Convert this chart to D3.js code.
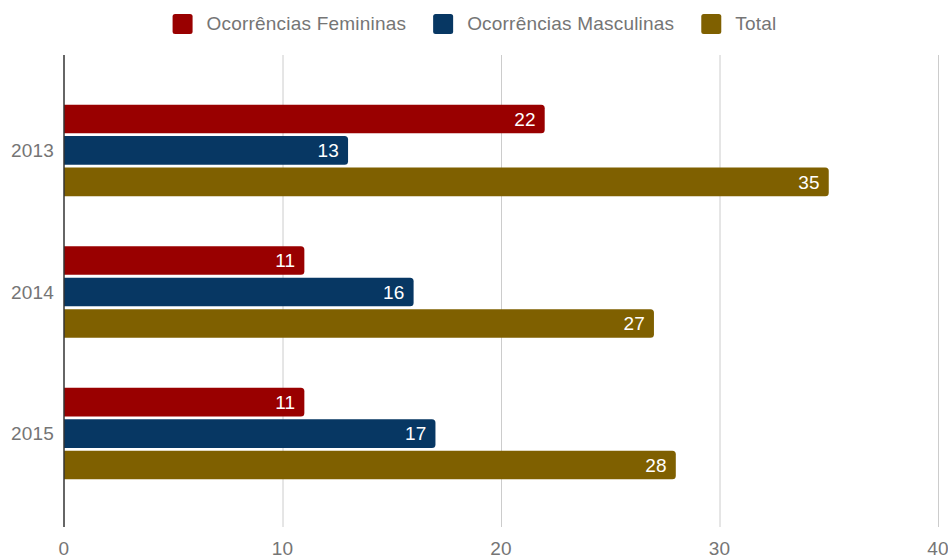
<!DOCTYPE html>
<html><head><meta charset="utf-8">
<script src="https://cdn.jsdelivr.net/npm/d3@7"></script>
<style>body{margin:0;background:#fff}svg{display:block;font-family:"Liberation Sans",Arial,sans-serif}text{letter-spacing:0.2px}</style>
</head><body><svg id="c" width="948" height="558"></svg>
<script>
const years = ["2013", "2014", "2015"];
const seriesNames = ["Ocorrências Femininas", "Ocorrências Masculinas", "Total"];
const feminine = [22, 11, 11];
const masculine = [13, 16, 17];
const total = [35, 27, 28];
const xTicks = [0, 10, 20, 30, 40];
const colors = ["#990000", "#073763", "#7f6000"];

const seriesValues = [feminine, masculine, total];
const svg = d3.select("#c");
const plotTop = 55, plotBottom = 527;
const FS = 19;
const x = d3.scaleLinear().domain([0, 40]).range([64, 938]);
const y0 = d3.scaleBand().domain(years).range([79.6, 504.4]).padding(0);
const groupH = 91.5;
const y1 = d3.scaleBand().domain(seriesNames).range([0, groupH]).paddingInner(0.09);

// gridlines
svg.append("g").selectAll("line").data(xTicks.filter(d => d !== 0)).join("line")
  .attr("x1", d => x(d) + 0.5).attr("x2", d => x(d) + 0.5)
  .attr("y1", plotTop).attr("y2", plotBottom)
  .attr("stroke", "#cccccc").attr("stroke-width", 1);

// x tick labels
svg.append("g").selectAll("text").data(xTicks).join("text")
  .attr("x", d => x(d)).attr("y", 555)
  .attr("text-anchor", "middle").attr("font-size", FS).attr("fill", "#757575")
  .text(d => d);

// y labels
svg.append("g").selectAll("text").data(years).join("text")
  .attr("x", 54).attr("y", d => y0(d) + y0.bandwidth() / 2)
  .attr("dy", "0.35em")
  .attr("text-anchor", "end").attr("font-size", FS).attr("fill", "#757575")
  .text(d => d);

function barPath(x0, x1, yT, h, r) {
  r = Math.min(r, (x1 - x0));
  return `M${x0},${yT}H${x1 - r}Q${x1},${yT} ${x1},${yT + r}V${yT + h - r}Q${x1},${yT + h} ${x1 - r},${yT + h}H${x0}Z`;
}

const groups = svg.append("g").selectAll("g").data(years).join("g")
  .attr("transform", d => `translate(0,${y0(d) + (y0.bandwidth() - groupH) / 2})`);

groups.each(function (yr, i) {
  const g = d3.select(this);
  seriesNames.forEach((s, k) => {
    const v = seriesValues[k][i];
    g.append("path")
      .attr("d", barPath(x(0), x(v), y1(s), y1.bandwidth(), 3.5))
      .attr("fill", colors[k]);
    g.append("text")
      .attr("x", x(v) - 9).attr("y", y1(s) + y1.bandwidth() / 2)
      .attr("dy", "0.36em").attr("text-anchor", "end")
      .attr("font-size", FS).attr("fill", "#ffffff")
      .text(v);
  });
});

// axis line
svg.append("line").attr("x1", 64).attr("x2", 64).attr("y1", plotTop).attr("y2", plotBottom)
  .attr("stroke", "#333333").attr("stroke-width", 1.5);

// legend
const leg = svg.append("g");
const items = leg.selectAll("g").data(seriesNames).join("g");
items.append("rect").attr("width", 20).attr("height", 20).attr("rx", 2.5)
  .attr("y", 14).attr("fill", (d, k) => colors[k]);
items.append("text").attr("x", 34).attr("y", 30)
  .attr("font-size", FS).attr("fill", "#757575").text(d => d);
let widths = [];
items.each(function () { widths.push(34 + d3.select(this).select("text").node().getComputedTextLength()); });
const gap = 27;
const totalW = d3.sum(widths) + gap * (widths.length - 1);
let cx = 474.5 - totalW / 2;
items.attr("transform", (d, k) => { const t = `translate(${cx},0)`; cx += widths[k] + gap; return t; });
</script></body></html>
